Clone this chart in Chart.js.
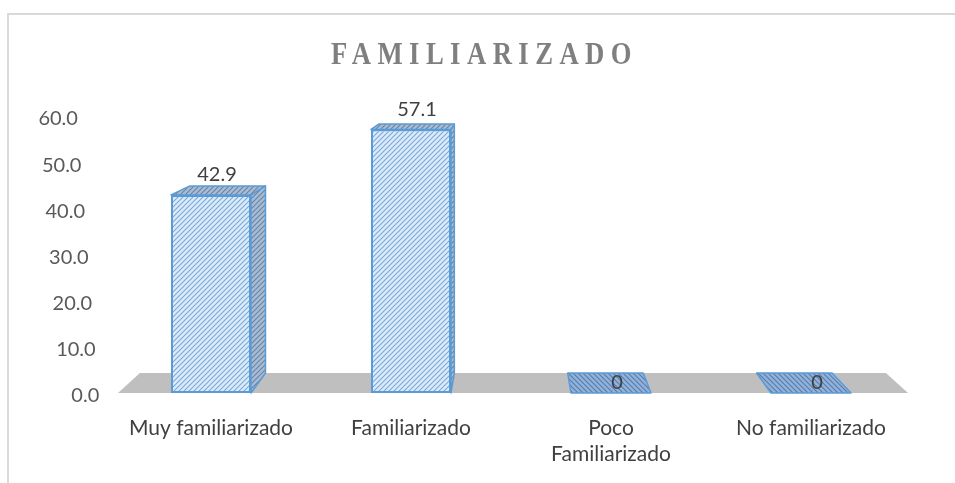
<!DOCTYPE html>
<html>
<head>
<meta charset="utf-8">
<script src="https://cdn.jsdelivr.net/npm/chart.js@4.4.0/dist/chart.umd.min.js"></script>
<style>
  html, body { margin: 0; padding: 0; background: #fff; }
  #frame { position: absolute; left: 7px; top: 13px; width: 960px; height: 480px;
           border-left: 2px solid #d9d9d9; border-top: 2px solid #d9d9d9; }
  #chart { position: absolute; left: 0; top: 0; }
</style>
</head>
<body>
<div id="frame"></div>
<canvas id="chart" width="955" height="483"></canvas>
<script>
// ---- datos ----
const categories = ['Muy familiarizado', 'Familiarizado', ['Poco', 'Familiarizado'], 'No familiarizado'];
const percentages = [42.9, 57.1, 0, 0];
const valueLabels = ['42.9', '57.1', '0', '0'];
const yTicks = [0, 10, 20, 30, 40, 50, 60];
const chartTitle = 'FAMILIARIZADO';

// ---- estilo ----
const BORDER = '#5b9bd5';
const TEXT = '#404040';
const DEPTH_T = 0.0557;   // profundidad de la perspectiva
const VANISH_Y = 33;      // punto de fuga (y)

// trama diagonal para las caras de las barras
function hatch(base, line, dir) {
    const s = 5;
    const c = document.createElement('canvas');
    c.width = s; c.height = s;
    const g = c.getContext('2d');
    g.fillStyle = base;
    g.fillRect(0, 0, s, s);
    g.strokeStyle = line;
    g.lineWidth = 1.1;
    g.beginPath();
    if (dir === '/') {
        g.moveTo(-1, s + 1); g.lineTo(s + 1, -1);
        g.moveTo(-1, 1); g.lineTo(1, -1);
        g.moveTo(s - 1, s + 1); g.lineTo(s + 1, s - 1);
    } else {
        g.moveTo(-1, -1); g.lineTo(s + 1, s + 1);
        g.moveTo(s - 1, -1); g.lineTo(s + 1, 1);
        g.moveTo(-1, s - 1); g.lineTo(1, s + 1);
    }
    g.stroke();
    return g.createPattern(c, 'repeat');
}

const ctx0 = document.getElementById('chart').getContext('2d');
const frontPattern = hatch('#dcebf8', '#7aa8da', '/');
const sidePattern = hatch('#a9bcd2', '#6484a9', '/');
const flatPattern = hatch('#8fb3dd', '#5a7ba3', '\\');

function quad(ctx, pts, fill) {
    ctx.beginPath();
    ctx.moveTo(pts[0][0], pts[0][1]);
    for (let i = 1; i < pts.length; i++) ctx.lineTo(pts[i][0], pts[i][1]);
    ctx.closePath();
    ctx.fillStyle = fill;
    ctx.fill();
}

// suelo + caras laterales y superiores (pseudo 3D)
const depthPlugin = {
    id: 'depth3d',
    beforeDatasetsDraw(chart) {
        const { ctx, chartArea: a } = chart;
        const vx = (a.left + a.right) / 2;
        const back = (x, y) => [x + DEPTH_T * (vx - x), y + DEPTH_T * (VANISH_Y - y)];
        ctx.save();

        const fl = a.left + 7, fr = a.right - 3;
        quad(ctx, [[fl, a.bottom], [fr, a.bottom], back(fr, a.bottom), back(fl, a.bottom)], '#bfbfbf');

        chart.getDatasetMeta(0).data.forEach((bar, i) => {
            const p = bar.getProps(['x', 'y', 'base', 'width'], true);
            const L = p.x - p.width / 2, R = p.x + p.width / 2;
            const T = p.y, B = p.base;
            ctx.strokeStyle = BORDER;
            ctx.lineWidth = 1.5;
            ctx.lineJoin = 'round';
            if (percentages[i] > 0) {
                const side = R < vx ? [[R, T], back(R, T), back(R, B), [R, B]]
                                    : [[L, T], back(L, T), back(L, B), [L, B]];
                quad(ctx, side, sidePattern); ctx.stroke();
                quad(ctx, [[L, T], [R, T], back(R, T), back(L, T)], sidePattern); ctx.stroke();
            } else {
                quad(ctx, [[L, B], [R, B], back(R, B), back(L, B)], flatPattern); ctx.stroke();
            }
        });
        ctx.restore();
    },
    afterDatasetsDraw(chart) {
        const { ctx } = chart;
        ctx.save();
        ctx.font = '20px Lato';
        ctx.fillStyle = TEXT;
        ctx.textAlign = 'center';
        ctx.textBaseline = 'middle';
        chart.getDatasetMeta(0).data.forEach((bar, i) => {
            const off = percentages[i] > 0 ? 20 : 10;
            ctx.fillText(valueLabels[i], bar.x + 6, bar.y - off);
        });
        ctx.restore();
    },
    afterDraw(chart) {
        const { ctx, chartArea: a } = chart;
        const yScale = chart.scales.y;
        ctx.save();
        // etiquetas del eje Y escalonadas por la perspectiva
        ctx.font = '20px Lato';
        ctx.fillStyle = '#595959';
        ctx.textAlign = 'right';
        ctx.textBaseline = 'middle';
        yTicks.forEach((v) => {
            const py = yScale.getPixelForValue(v) + 3;
            const rx = 99 - (a.bottom - py) * 0.077;
            ctx.fillText(v.toFixed(1), rx, py);
        });
        // titulo (serif estrecha: escala horizontal)
        const sx = 0.86;
        ctx.scale(sx, 1);
        ctx.font = 'bold 31px "Liberation Serif"';
        ctx.letterSpacing = '7.5px';
        ctx.fillStyle = '#7f7f7f';
        ctx.textAlign = 'center';
        ctx.textBaseline = 'alphabetic';
        ctx.fillText(chartTitle, (481 + 3.5) / sx, 64);
        ctx.restore();
    }
};

new Chart(ctx0, {
    type: 'bar',
    data: {
        labels: categories,
        datasets: [{
            data: percentages,
            backgroundColor: frontPattern,
            borderColor: BORDER,
            borderWidth: (c) => (percentages[c.dataIndex] > 0 ? 2 : 0),
            borderSkipped: false,
            barPercentage: 0.4,
            categoryPercentage: 1.0
        }]
    },
    options: {
        responsive: false,
        animation: false,
        layout: { padding: { left: 111, right: 44, top: 116, bottom: 0 } },
        plugins: {
            legend: { display: false },
            tooltip: { enabled: false }
        },
        scales: {
            x: {
                grid: { display: false },
                border: { display: false },
                ticks: {
                    color: TEXT,
                    font: { family: 'Lato', size: 21, lineHeight: 1.2 },
                    padding: 15,
                    maxRotation: 0,
                    autoSkip: false
                },
                afterFit: (scale) => { scale.height = 90; }
            },
            y: {
                display: false,
                min: 0,
                max: 60
            }
        }
    },
    plugins: [depthPlugin]
});
</script>
</body>
</html>
